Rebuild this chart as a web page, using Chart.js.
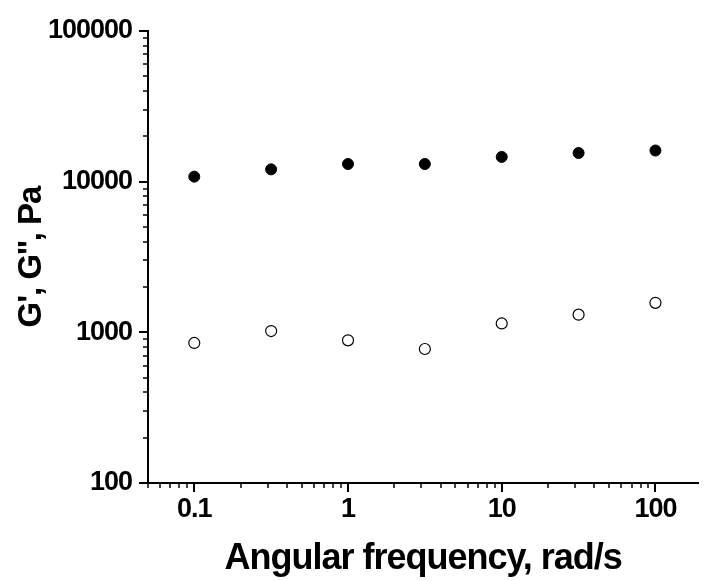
<!DOCTYPE html>
<html>
<head>
<meta charset="utf-8">
<script src="https://cdn.jsdelivr.net/npm/chart.js@4"></script>
<style>
  html, body { margin: 0; padding: 0; background: #fff; overflow: hidden; }
  #wrap { width: 705px; height: 581px; }
</style>
</head>
<body>
<div id="wrap"><canvas id="modChart"></canvas></div>
<script>
// angular frequency, rad/s
const freq = [0.1, 0.3162, 1, 3.162, 10, 31.62, 100];
// storage modulus G' (filled) and loss modulus G'' (open), Pa
const gStorage = [10800, 12070, 13100, 13100, 14600, 15500, 16100];
const gLoss = [850, 1020, 885, 775, 1145, 1310, 1570];
const xTickLabels = ['0.1', '1', '10', '100'];
const yTickLabels = ['100', '1000', '10000', '100000'];

const isDecade = v => {
  const e = Math.log10(v);
  return Math.abs(e - Math.round(e)) < 1e-6;
};
const isWhole = v => {
  const s = v / Math.pow(10, Math.floor(Math.log10(v) + 1e-9));
  return Math.abs(s - Math.round(s)) < 1e-6;
};

// tighter lettering, like the original figure
const tightText = {
  id: 'tightText',
  beforeLayout(chart) { chart.ctx.letterSpacing = '-1px'; },
  beforeDraw(chart) { chart.ctx.letterSpacing = '-1px'; }
};

// log tick marks: long at decades, short in between
const tickMarks = {
  id: 'tickMarks',
  afterDraw(chart) {
    const { ctx, chartArea, scales } = chart;
    ctx.save();
    ctx.strokeStyle = '#000';
    scales.x.ticks.forEach(t => {
      if (!isWhole(t.value)) return;
      const major = isDecade(t.value);
      const x = Math.round(scales.x.getPixelForValue(t.value));
      ctx.lineWidth = major ? 2 : 1.5;
      ctx.beginPath();
      ctx.moveTo(x, chartArea.bottom);
      ctx.lineTo(x, chartArea.bottom + (major ? 9 : 5));
      ctx.stroke();
    });
    scales.y.ticks.forEach(t => {
      if (!isWhole(t.value)) return;
      const major = isDecade(t.value);
      const y = Math.round(scales.y.getPixelForValue(t.value));
      ctx.lineWidth = major ? 2 : 1.5;
      ctx.beginPath();
      ctx.moveTo(chartArea.left, y);
      ctx.lineTo(chartArea.left - (major ? 9 : 5), y);
      ctx.stroke();
    });
    ctx.restore();
  }
};

const font = 'Liberation Sans, Arial, sans-serif';

new Chart(document.getElementById('modChart'), {
  type: 'scatter',
  data: {
    datasets: [{
      label: "G'",
      data: freq.map((f, i) => ({ x: f, y: gStorage[i] })),
      pointRadius: 5.5,
      pointBackgroundColor: '#000',
      pointBorderColor: '#000',
      pointBorderWidth: 1
    }, {
      label: "G''",
      data: freq.map((f, i) => ({ x: f, y: gLoss[i] })),
      pointRadius: 5.5,
      pointBackgroundColor: '#fff',
      pointBorderColor: '#000',
      pointBorderWidth: 1.2
    }]
  },
  options: {
    responsive: true,
    maintainAspectRatio: false,
    animation: false,
    layout: { padding: { top: 31, right: 0, left: 0, bottom: 0 } },
    plugins: { legend: { display: false }, tooltip: { enabled: false } },
    scales: {
      x: {
        type: 'logarithmic',
        min: 0.05,
        max: 190,
        grid: { display: false, drawTicks: true, tickLength: 9 },
        border: { display: true, color: '#000', width: 2 },
        ticks: {
          autoSkip: false,
          maxRotation: 0,
          padding: 1,
          color: '#000',
          font: { family: font, size: 27, weight: 'bold' },
          callback: v => xTickLabels.includes(String(v)) ? String(v) : ''
        },
        title: {
          display: true,
          text: 'Angular frequency, rad/s',
          color: '#000',
          font: { family: font, size: 36, weight: 'bold' },
          padding: { top: 0, bottom: 0 }
        },
        afterFit: s => { s.height = 98; }
      },
      y: {
        type: 'logarithmic',
        min: 100,
        max: 100000,
        grid: { display: false, drawTicks: true, tickLength: 9 },
        border: { display: true, color: '#000', width: 2 },
        ticks: {
          autoSkip: false,
          padding: 7,
          color: '#000',
          font: { family: font, size: 27, weight: 'bold' },
          callback: v => yTickLabels.includes(String(v)) ? String(v) : ''
        },
        title: {
          display: true,
          text: "G', G'', Pa",
          color: '#000',
          font: { family: font, size: 33, weight: 'bold' },
          padding: { top: 12, bottom: 0 }
        },
        afterFit: s => { s.width = 148; }
      }
    }
  },
  plugins: [tightText, tickMarks]
});
</script>
</body>
</html>
